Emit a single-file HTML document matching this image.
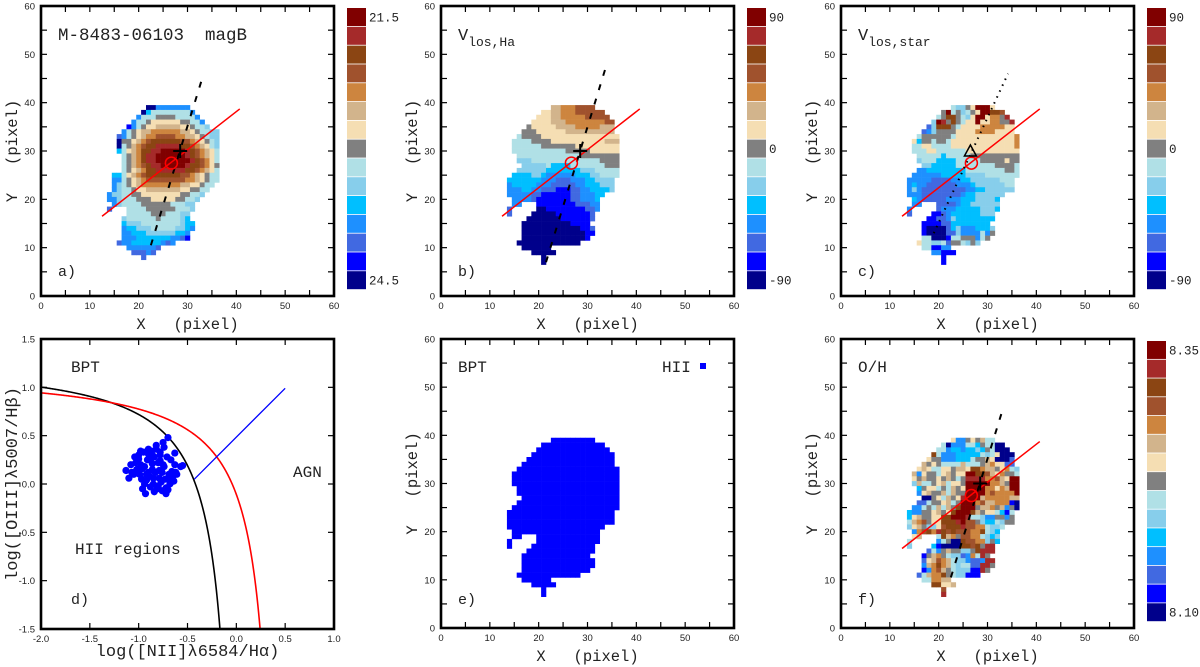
<!DOCTYPE html>
<html><head><meta charset="utf-8"><style>
html,body{margin:0;padding:0;background:#fff;}
svg{display:block;}
.tk{font-family:"Liberation Sans",sans-serif;font-size:9.5px;fill:#222;}
.mono{font-family:"Liberation Mono",monospace;fill:#222;}
</style></head><body>
<svg id="fig" width="1200" height="667" viewBox="0 0 1200 667" xmlns="http://www.w3.org/2000/svg"></svg>
<script>
// ---------- data ----------
const levelColors = ["#00008b","#0000ff","#4169e1","#1e90ff","#00bfff","#87ceeb","#b0e0e6","#808080","#f5deb3","#d2b48c","#cd853f","#a0522d","#8b4513","#a52a2a","#800000"];
const mapYTop = 39;
const magBRows = [
".........aaddddddd.......",
"........aeggggggggd......",
".......dggghhhhggggd.....",
"......dgghiiiiiihhggd....",
".....bdghiijjjjjiihggf...",
"....dghijjkkkkkkjjihggff.",
"...cdghijkkllllkkjjihgff.",
"...ahhijklmmmmmmllkjihgf.",
"...aghjklmmnnnnnmmlkjigf.",
"...egijkmmnnooooonmlkjig.",
"....ghjkmnnoooooonmlkjig.",
"....ghjkmnnooooooonmlkig.",
"....ghjklmnnooooonmmlkih.",
"....ghijkmmnnnnnnmmlkjig.",
"..eegijklmmmmmmmllkjihgg.",
"..ddghijkllllllllkkjihgg.",
"..dfghijkkkkkkkkjjiihgg..",
"..dfgghiijjjjjjjiihhgg...",
".dffgghhiiiiiiiihhggf....",
".ddfggghhhiiiiihhggf.....",
"..dfgggghhhhhhgggff......",
".c...gggghhhhhhgggf......",
".....ggggghhhgggff.......",
"....fgggggghggggfe.......",
"....efffggggggggfee......",
"....deefffgggggffed......",
"....ddeeeffffffeed.......",
"....dddeeeeeeeddcb.......",
"...cddeeeeeedcd..........",
".....ddddddc.............",
"......cccdc..............",
"........c................"];
const vHaRows = [
"..........jjkkkllll.....",
"........iijjkkkllllll...",
".......iiijjkkkkklllll..",
"......iiiijjjkkkkkkkkll.",
".....hiiiiijjjjkkkkkjjj.",
"....hhhiiiiiijjjjjjjjjj.",
"...ghhhhiiiiiiiiiiiiiiii",
"..gggghhhhiiiiiiiiiiijjj",
"..gggggghhhhhhhiiiiiiiii",
"..ggggggggggghhhhhiiiiii",
"...ggggggggggggghhhhhhhh",
"...fffgggggggggggggghhhh",
"....fffffgeeeeggggggghhh",
"...ffffffeeeeeeefffggggg",
"..eeeeffeddddddeeeffgggg",
".eeeeeeedddcccdddeeffff.",
".deeeeedddcccccddeeefff.",
".dddeeddcccbbbccddeeeef.",
".dddddccbbbbbbccdddee...",
"..ddddcbbbbbbbccddde....",
"..dd...bbbbbbbbcccdd....",
".c.....aabbbbbbbbccd....",
".c....aaaaabbbbbbbc.....",
".....aaaaaaabbbbbbc.....",
"....aaaaaaaaaabbbb......",
"....aaaaaaaaaaaabbc.....",
"....aaaaaaaaaaaaabb.....",
"....aaaaaaaaaaaaab......",
"...aaaaaaaaaaaaa........",
"....aaaaaa..............",
"......aaaaa.............",
"........a...............",
"........a..............."];
const vStarRows = [
"..........gffhioooi.....",
"........hoghfghioomml...",
".......ghmmhgfiooikkhn..",
"......fonhmhgiioiikkhhn.",
".....cfmmmhgiiiikkkkkii.",
"....cdfhhhhiiiikkkkiiii.",
"...ghhhhhhgiiiiiiiiiiiik",
"..iehhghhgiiiiiiiiiiiiik",
"..ggiiggggiiiiiiiiiiiiik",
"..gggiiggggggiiiiiiiiiii",
"...gggggeggggghhhhhhhhhh",
"...fgggeeeeggggghhhhhihh",
"....ffeeeeegggggggghhhhg",
"...ddeeeeeeeegggggggghhg",
"..ddddddeeeeeffffggggggg",
".dddddccccddeeffffffggg.",
".deddccccccdddeffffffgg.",
".dfdcccccccccddeeffffff.",
".dddccccccccdeeffffff...",
"..edcccccdddeeeffffe....",
"..dd...ccccdeeffffff....",
".d.....cdddeeeeefffe....",
".c....bbcdeeeeeefff.....",
".....bbccdfeeeeeeee.....",
"....bbbbcceeeeeeee......",
"....baaaacefdddeeef.....",
"....baaaaccfddddgdh.....",
"....ggaaabgghhhdgh......",
"...iggffgchhgfhf........",
"....ggbbdd..............",
"......ddbbb.............",
"........b...............",
"........b..............."];
const ohRows = [
"..........iddhihjgg.....",
"........gadddggehggaa...",
".......ggdeedeefehgaaa..",
"......mgdddeeeeegfgiaaa.",
".....ihhdddeeeghhjiaaac.",
"....jhihggggjggghjkiicc.",
"...ijiggiihjjimmkjjhikgf",
"..jdihhgijhiioommljikhhg",
"..ihjhhihjhghnnnnkkljioo",
"..fjgghijgiihoooookkjhoo",
"...ehiighgjhiooookkikjoo",
"...dijhhjgjhhooooklkkkko",
"....aahigjhinooojkkkkkjj",
"...ccghhijghoookljjkkkba",
"..ddghgjgjhmooohjjkhjdha",
".eddhhijhimooomjhiigebg.",
".eijhhiimmooonggfddhhdh.",
".gjklhiimmmnollhfeegfhh.",
".fijhffilmmmnllkkgffg...",
"..dklmknmlmlllkkmgfe....",
"..ij...gmjkhllkkgfef....",
".g.....dghaamllkkfhe....",
".f....ebaaaammlmhnn.....",
".....cgdhjhhffhmnnn.....",
"....bhjkhgffcdkgnh......",
"....cijlkjgffdccdnn.....",
"....djkmkjgfggccnnh.....",
"....bdkljhgfffbbnh......",
"...cgjkkmhgffbbb........",
"....ggkkjj..............",
"......mmiij.............",
"........l...............",
"........n..............."];
const bptX = [-0.70,-0.75,-0.63,-0.57,-0.55,-1.10,-1.13,-0.67,-0.93,-0.72,-1.00,-0.98,-0.95,-0.92,-0.90,-0.88,-0.86,-0.84,-0.82,-0.80,-0.78,-0.76,-0.74,-1.02,-1.05,-0.97,-0.94,-0.89,-0.85,-0.81,-0.77,-0.73,-0.69,-0.66,-0.87,-0.91,-0.99,-1.03,-0.83,-0.79,-0.75,-0.71,-0.68,-0.65,-0.62,-0.96,-0.92,-0.88,-0.84,-0.80,-0.76,-0.72,-1.00,-0.86,-0.82,-0.78,-0.74,-0.70,-0.90,-0.94,-0.64,-0.61,-1.07,-0.85,-0.79,-1.08,-1.04,-0.98,-0.96,-0.90,-0.86,-0.78,-0.70,-0.67,-0.63];
const bptY = [0.48,0.43,0.32,0.18,0.19,0.06,0.14,0.25,-0.10,-0.10,0.30,0.20,0.33,0.10,0.36,0.25,0.15,0.28,0.36,0.22,0.30,0.12,0.38,0.15,0.10,0.05,0.00,0.08,0.00,-0.05,0.02,0.05,0.10,0.13,0.34,0.25,0.10,0.22,0.12,0.06,0.20,0.28,0.00,0.08,0.12,0.16,0.04,-0.03,-0.08,-0.02,-0.07,-0.04,0.26,0.21,0.40,0.33,0.18,0.05,0.31,0.18,0.03,0.10,0.12,0.06,0.14,0.20,0.28,0.34,-0.05,0.12,0.30,0.24,-0.06,0.02,0.20];
const xTicksPix = [0,10,20,30,40,50,60];
const bptXTicks = [-2.0,-1.5,-1.0,-0.5,0.0,0.5,1.0];
const bptYTicks = [-1.5,-1.0,-0.5,0.0,0.5,1.0,1.5];

// ---------- drawing ----------
const NS="http://www.w3.org/2000/svg";
const svg=document.getElementById('fig');
function mk(tag,attrs,parent){const e=document.createElementNS(NS,tag);for(const k in attrs)e.setAttribute(k,attrs[k]);(parent||svg).appendChild(e);return e;}
function grp(name){const g=mk('g',{});


return g;}
function makeAxes(P){
  P.sx=v=>P.x0+(v-P.xmin)/(P.xmax-P.xmin)*(P.x1-P.x0);
  P.sy=v=>P.y1-(v-P.ymin)/(P.ymax-P.ymin)*(P.y1-P.y0);
}
function drawFrame(P,g,xt,yt,minorStep,fmt){
  const ax=grp(P.name+'-axes');
  for(let v=P.xmin;v<=P.xmax+1e-9;v+=minorStep){const x=P.sx(v);
    const t1=mk('line',{x1:x,y1:P.y1,x2:x,y2:P.y1-6,stroke:'#000','stroke-width':1.2},ax);
    
    
    mk('line',{x1:x,y1:P.y0,x2:x,y2:P.y0+6,stroke:'#000','stroke-width':1.2},ax);}
  const yStep=(P.ymax-P.ymin)*minorStep/(P.xmax-P.xmin);
  for(let v=P.ymin;v<=P.ymax+1e-9;v+=yStep){const y=P.sy(v);
    const t2=mk('line',{x1:P.x0,y1:y,x2:P.x0+6,y2:y,stroke:'#000','stroke-width':1.2},ax);
    
    
    mk('line',{x1:P.x1,y1:y,x2:P.x1-6,y2:y,stroke:'#000','stroke-width':1.2},ax);}
  xt.forEach(v=>{const t=mk('text',{x:P.sx(v),y:P.y1+13,'text-anchor':'middle',class:'tk'},ax);t.textContent=fmt(v);
    
    });
  yt.forEach(v=>{const t=mk('text',{x:P.x0-6,y:P.sy(v)+3.5,'text-anchor':'end',class:'tk'},ax);t.textContent=fmt(v);
    
    });
  const fr=mk('rect',{x:P.x0,y:P.y0,width:P.x1-P.x0,height:P.y1-P.y0,fill:'none',stroke:'#000','stroke-width':2.6},ax);
  
  
}
function txt(parent,x,y,s,size,name,anchor,rot){
  const t=mk('text',{x:x,y:y,class:'mono','font-size':size,'text-anchor':anchor||'start'},parent);
  t.setAttribute('xml:space','preserve');
  t.style.whiteSpace='pre';
  if(rot)t.setAttribute('transform','rotate(-90 '+x+' '+y+')');
  t.textContent=s;
  
  
  return t;}
function drawMap(P,rows,x0,name,single){
  const g=grp(name);
  rows.forEach((r,ri)=>{const Y=mapYTop-ri;
    for(let i=0;i<r.length;i++){const c=r[i];if(c==='.')continue;
      const lvl=c.charCodeAt(0)-97;const X=x0+i;
      const x=P.sx(X-0.5),y=P.sy(Y+0.5);
      const cell=mk('rect',{x:x,y:y,width:P.sx(X+0.5)-x+0.3,height:P.sy(Y-0.5)-y+0.3,fill:single||levelColors[lvl]},g);
      
      }});
}
function drawColorbar(P,labels){
  const g=grp(P.name+'-colorbar');
  const cx=P.x1+13,top=P.y0+2,bot=P.y1-6,h=(bot-top)/15;
  for(let i=0;i<15;i++){
    const r=mk('rect',{x:cx,y:top+i*h,width:19,height:h-0.8,fill:levelColors[14-i]},g);
    
    }
  labels.forEach(([i,s])=>txt(g,cx+22,top+i*h+h/2+4,s,12.5,'colorbar-label'));
}
function drawOverlay(P,style,marker){
  const g=grp(P.name+'-overlay');
  const l=mk('line',{x1:P.sx(12.5),y1:P.sy(16.5),x2:P.sx(40.7),y2:P.sy(38.7),stroke:'#ff0000','stroke-width':1.5},g);
  
  
  const dash=style==='dot'?'1.5,5':'6,9';
  const a=style==='dot'?[19,13,34.2,46]:(style==='b'?[21.5,7,33.8,47.5]:[22.5,10.5,33,45]);
  const k=mk('line',{x1:P.sx(a[0]),y1:P.sy(a[1]),x2:P.sx(a[2]),y2:P.sy(a[3]),stroke:'#000','stroke-width':2,'stroke-dasharray':dash},g);
  
  
  const c=mk('circle',{cx:P.sx(26.7),cy:P.sy(27.5),r:6,fill:'none',stroke:'#ff0000','stroke-width':1.5},g);
  
  
  if(marker==='tri'){const x=P.sx(26.5),y=P.sy(30);
    const t=mk('polygon',{points:(x-6)+','+(y+5)+' '+(x+6)+','+(y+5)+' '+x+','+(y-6),fill:'none',stroke:'#000','stroke-width':1.5},g);
    
    }
  else{const x=P.sx(28.5),y=P.sy(30);
    const p=mk('path',{d:'M'+(x-7)+' '+y+'H'+(x+7)+'M'+x+' '+(y-7)+'V'+(y+7),stroke:'#000','stroke-width':2},g);
    
    }
}
function pixLabels(P,g){
  txt(g,(P.x0+P.x1)/2,P.y1+33,'X   (pixel)',15.5,'x-axis-title','middle');
  txt(g,P.x0-24,(P.y0+P.y1)/2,'Y   (pixel)',15.5,'y-axis-title','middle',true);
}
function pixPanel(col,row,name){
  const P={name:name,x0:41+400*col,x1:334+400*col,y0:row?339:6,y1:row?628:296,xmin:0,xmax:60,ymin:0,ymax:60};
  makeAxes(P);return P;}
const f0=v=>String(v);
const f1=v=>v.toFixed(1);

// Panel a
let P=pixPanel(0,0,'panel-a');let g=grp('panel-a');
drawMap(P,magBRows,13,'magb-map');
drawOverlay(P,'dash','plus');
drawFrame(P,g,xTicksPix,xTicksPix,5,f0);pixLabels(P,g);
txt(g,58,40,'M-8483-06103  magB',17.5,'panel-title');
txt(g,58,276,'a)',15,'panel-letter');
drawColorbar(P,[[0,'21.5'],[14,'24.5']]);
// Panel b
P=pixPanel(1,0,'panel-b');g=grp('panel-b');
drawMap(P,vHaRows,13,'vha-map');
drawOverlay(P,'b','plus');
drawFrame(P,g,xTicksPix,xTicksPix,5,f0);pixLabels(P,g);
let t=txt(g,458,40,'V',17,'panel-title');
let ts=mk('tspan',{dy:6,'font-size':13},t);ts.textContent='los,Ha';
txt(g,458,276,'b)',15,'panel-letter');
drawColorbar(P,[[0,'90'],[7,'0'],[14,'-90']]);
// Panel c
P=pixPanel(2,0,'panel-c');g=grp('panel-c');
drawMap(P,vStarRows,13,'vstar-map');
drawOverlay(P,'dot','tri');
drawFrame(P,g,xTicksPix,xTicksPix,5,f0);pixLabels(P,g);
t=txt(g,858,40,'V',17,'panel-title');
ts=mk('tspan',{dy:6,'font-size':13},t);ts.textContent='los,star';
txt(g,858,276,'c)',15,'panel-letter');
drawColorbar(P,[[0,'90'],[7,'0'],[14,'-90']]);
// Panel d (BPT)
P={name:'panel-d',x0:41,x1:334,y0:339,y1:629,xmin:-2,xmax:1,ymin:-1.5,ymax:1.5};makeAxes(P);
g=grp('panel-d');
function curve(fn,xa,xb,color,name){let d='';for(let i=0;i<=300;i++){const x=xa+(xb-xa)*i/300;const y=fn(x);d+=(i?'L':'M')+P.sx(x).toFixed(2)+' '+P.sy(Math.max(y,-1.5)).toFixed(2);}
  const p=mk('path',{d:d,fill:'none',stroke:color,'stroke-width':1.6},g);
  
  }
curve(x=>0.61/(x-0.05)+1.3,-2,-0.168,'#000','kauffmann-curve');
curve(x=>0.61/(x-0.47)+1.19,-2,0.243,'#ff0000','kewley-curve');
const bl=mk('line',{x1:P.sx(-0.43),y1:P.sy(0.05),x2:P.sx(0.5),y2:P.sy(0.99),stroke:'#0000ff','stroke-width':1.3},g);


bptX.forEach((x,i)=>{const c=mk('circle',{cx:P.sx(x),cy:P.sy(bptY[i]),r:3.6,fill:'#0000ff'},g);
  
  });
drawFrame(P,g,bptXTicks,bptYTicks,0.5,f1);
txt(g,(P.x0+P.x1)/2,656,'log([NII]λ6584/Hα)',17,'x-axis-title','middle');
txt(g,17,(P.y0+P.y1)/2,'log([OIII]λ5007/Hβ)',17,'y-axis-title','middle',true);
txt(g,71,372,'BPT',16,'panel-title');
txt(g,293,477,'AGN',16,'agn-label');
txt(g,75,554,'HII regions',16,'hii-regions-label');
txt(g,71,604,'d)',15,'panel-letter');
// Panel e
P=pixPanel(1,1,'panel-e');g=grp('panel-e');
drawMap(P,vHaRows,13,'bpt-map','#0000ff');
drawFrame(P,g,xTicksPix,xTicksPix,5,f0);pixLabels(P,g);
txt(g,458,372,'BPT',16,'panel-title');
txt(g,662,372,'HII',16,'legend-label');
const lsq=mk('rect',{x:700,y:363,width:6,height:6,fill:'#0000ff'},g);


txt(g,458,604,'e)',15,'panel-letter');
// Panel f
P=pixPanel(2,1,'panel-f');g=grp('panel-f');
drawMap(P,ohRows,13,'oh-map');
drawOverlay(P,'dash','plus');
drawFrame(P,g,xTicksPix,xTicksPix,5,f0);pixLabels(P,g);
txt(g,858,372,'O/H',16,'panel-title');
txt(g,858,604,'f)',15,'panel-letter');
drawColorbar(P,[[0,'8.35'],[14,'8.10']]);
</script>
</body></html>
